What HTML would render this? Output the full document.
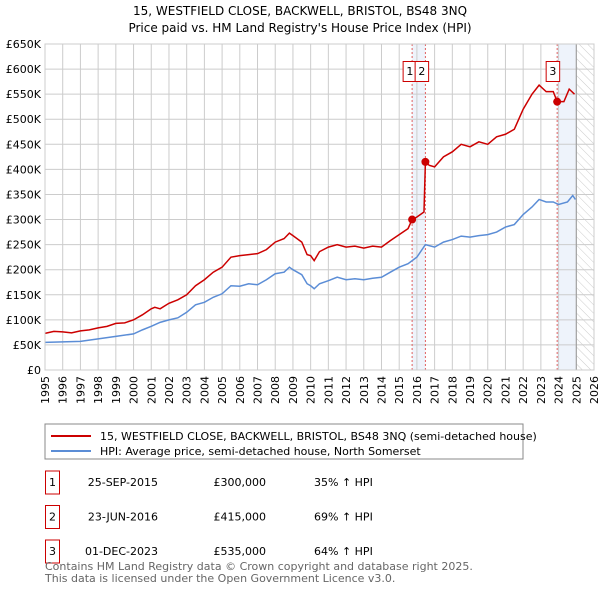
<!DOCTYPE html>
<html><head><meta charset="utf-8"><style>
body{margin:0;background:#fff;font-family:"Liberation Sans","DejaVu Sans",sans-serif;}
svg text{font-family:"DejaVu Sans","Liberation Sans",sans-serif;}
</style></head><body>
<svg id="c" width="600" height="590" viewBox="0 0 600 590" xmlns="http://www.w3.org/2000/svg">
<defs><pattern id="hatch" width="6" height="6" patternUnits="userSpaceOnUse" patternTransform="rotate(-45)"><line x1="0" y1="0" x2="0" y2="6" stroke="#ccc" stroke-width="1"/></pattern></defs>
<text x="300" y="15" text-anchor="middle" font-size="12" fill="#000">15, WESTFIELD CLOSE, BACKWELL, BRISTOL, BS48 3NQ</text>
<text x="300" y="32" text-anchor="middle" font-size="12" fill="#000">Price paid vs. HM Land Registry's House Price Index (HPI)</text>
<g id="plot"></g>
<rect x="45" y="424" width="478" height="35" fill="#fff" stroke="#888"/>
<line x1="51" y1="436" x2="91" y2="436" stroke="#cc0000" stroke-width="2"/>
<text x="100" y="440" font-size="11">15, WESTFIELD CLOSE, BACKWELL, BRISTOL, BS48 3NQ (semi-detached house)</text>
<line x1="51" y1="451" x2="91" y2="451" stroke="#5b8dd6" stroke-width="2"/>
<text x="100" y="455" font-size="11">HPI: Average price, semi-detached house, North Somerset</text>
<g id="table" font-size="11"></g>
<text x="45" y="570" font-size="11" fill="#666">Contains HM Land Registry data © Crown copyright and database right 2025.</text>
<text x="45" y="582" font-size="11" fill="#666">This data is licensed under the Open Government Licence v3.0.</text>
</svg>
<script>
const redX=[1995,1995.5,1996,1996.5,1997,1997.5,1998,1998.5,1999,1999.5,2000,2000.5,2001,2001.2,2001.5,2002,2002.5,2003,2003.5,2004,2004.5,2005,2005.5,2006,2006.5,2007,2007.5,2008,2008.5,2008.8,2009,2009.5,2009.8,2010,2010.2,2010.5,2011,2011.5,2012,2012.5,2013,2013.5,2014,2014.5,2015,2015.5,2015.73,2016,2016.4,2016.48,2016.7,2017,2017.5,2018,2018.5,2019,2019.5,2020,2020.5,2021,2021.5,2022,2022.5,2022.9,2023.3,2023.7,2023.92,2024.3,2024.6,2024.9];
const redY=[73,77,76,74,78,80,84,87,93,94,100,110,122,125,122,133,140,150,168,180,195,205,225,228,230,232,240,255,262,273,268,255,230,228,218,236,245,250,245,247,243,247,245,258,270,282,300,305,315,415,408,405,425,435,450,445,455,450,465,470,480,520,550,568,555,555,535,535,560,550];
const hpiX=[1995,1996,1997,1998,1999,2000,2000.5,2001,2001.5,2002,2002.5,2003,2003.5,2004,2004.5,2005,2005.5,2006,2006.5,2007,2007.5,2008,2008.5,2008.8,2009,2009.5,2009.8,2010,2010.2,2010.5,2011,2011.5,2012,2012.5,2013,2013.5,2014,2014.5,2015,2015.5,2016,2016.48,2017,2017.5,2018,2018.5,2019,2019.5,2020,2020.5,2021,2021.5,2022,2022.5,2022.9,2023.3,2023.7,2024,2024.5,2024.8,2024.95];
const hpiY=[55,56,57,62,67,72,80,87,95,100,104,115,130,135,145,152,168,167,172,170,180,192,195,205,200,190,172,168,162,172,178,185,180,182,180,183,185,195,205,212,225,250,245,255,260,267,265,268,270,275,285,290,310,325,340,335,335,330,335,348,340];
const saleX=[2015.73,2016.48,2023.92];
const saleY=[300,415,535];
const saleLabels=["1","2","3"];
const saleDates=["25-SEP-2015","23-JUN-2016","01-DEC-2023"];
const salePrices=["£300,000","£415,000","£535,000"];
const saleHpi=["35% ↑ HPI","69% ↑ HPI","64% ↑ HPI"];
const yTicks=[0,50,100,150,200,250,300,350,400,450,500,550,600,650];
const xTicks=[1995,1996,1997,1998,1999,2000,2001,2002,2003,2004,2005,2006,2007,2008,2009,2010,2011,2012,2013,2014,2015,2016,2017,2018,2019,2020,2021,2022,2023,2024,2025,2026];
const NS="http://www.w3.org/2000/svg";
const X0=45,X1=594,Y0=370,Y1=44;
const sx=v=>X0+(v-1995)/31*(X1-X0);
const sy=v=>Y0-v/650*(Y0-Y1);
const plot=document.getElementById('plot');
function mk(tag,at,parent){const e=document.createElementNS(NS,tag);for(const k in at)e.setAttribute(k,at[k]);(parent||plot).appendChild(e);return e;}
let e;
e=mk('rect',{x:sx(2015.73),y:Y1,width:sx(2016.48)-sx(2015.73),height:Y0-Y1,fill:'#eef3fb'});


e=mk('rect',{x:sx(2023.92),y:Y1,width:sx(2025)-sx(2023.92),height:Y0-Y1,fill:'#eef3fb'});


e=mk('rect',{x:sx(2025),y:Y1,width:X1-sx(2025),height:Y0-Y1,fill:'url(#hatch)'});


yTicks.forEach(t=>{
 e=mk('line',{x1:X0,x2:X1,y1:sy(t),y2:sy(t),stroke:'#ccc'});
 
 
 e=mk('text',{x:X0-4,y:sy(t)+4,'text-anchor':'end','font-size':11});
 e.textContent=t===0?'£0':'£'+t+'K';
 
 
});
xTicks.forEach(t=>{
 e=mk('line',{x1:sx(t),x2:sx(t),y1:Y1,y2:Y0,stroke:'#ccc'});
 
 
 e=mk('text',{x:0,y:0,'text-anchor':'end','font-size':11,transform:`translate(${sx(t)+4},${Y0+6}) rotate(-90)`});
 e.textContent=t;
 
 
});
e=mk('line',{x1:sx(2025),x2:sx(2025),y1:Y1,y2:Y0,stroke:'#999'});


saleX.forEach((s,i)=>{
 e=mk('line',{x1:sx(s),x2:sx(s),y1:Y1,y2:Y0,stroke:'#e06060','stroke-dasharray':'2,2'});
 
 
});
e=mk('polyline',{points:hpiX.map((x,i)=>sx(x)+','+sy(hpiY[i])).join(' '),fill:'none',stroke:'#5b8dd6','stroke-width':1.5});


e=mk('polyline',{points:redX.map((x,i)=>sx(x)+','+sy(redY[i])).join(' '),fill:'none',stroke:'#cc0000','stroke-width':1.5});


const boxOff=[-9,3,-11];
saleX.forEach((s,i)=>{
 e=mk('circle',{cx:sx(s),cy:sy(saleY[i]),r:4,fill:'#cc0000'});
 
 
 const lx=(i===1?sx(saleX[0]):sx(s))+boxOff[i];
 e=mk('rect',{x:lx,y:61.5,width:13.5,height:20,fill:'#fff',stroke:'#cc0000'});
 
 
 e=mk('text',{x:lx+6.75,y:75,'text-anchor':'middle','font-size':11});
 e.textContent=saleLabels[i];
 
 
});
e=mk('rect',{x:X0,y:Y1,width:X1-X0,height:Y0-Y1,fill:'none',stroke:'#ccc'});


const tb=document.getElementById('table');
saleLabels.forEach((l,i)=>{
 const y=482+i*34.5;
 e=mk('rect',{x:45.5,y:y-11,width:14,height:23,fill:'#fff',stroke:'#cc0000'},tb);
 
 
 e=mk('text',{x:52.5,y:y+4,'text-anchor':'middle'},tb);e.textContent=l;
 
 
 e=mk('text',{x:158,y:y+4,'text-anchor':'end'},tb);e.textContent=saleDates[i];
 
 
 e=mk('text',{x:266,y:y+4,'text-anchor':'end'},tb);e.textContent=salePrices[i];
 
 
 e=mk('text',{x:314,y:y+4},tb);e.textContent=saleHpi[i];
 
 
});
</script>
</body></html>
